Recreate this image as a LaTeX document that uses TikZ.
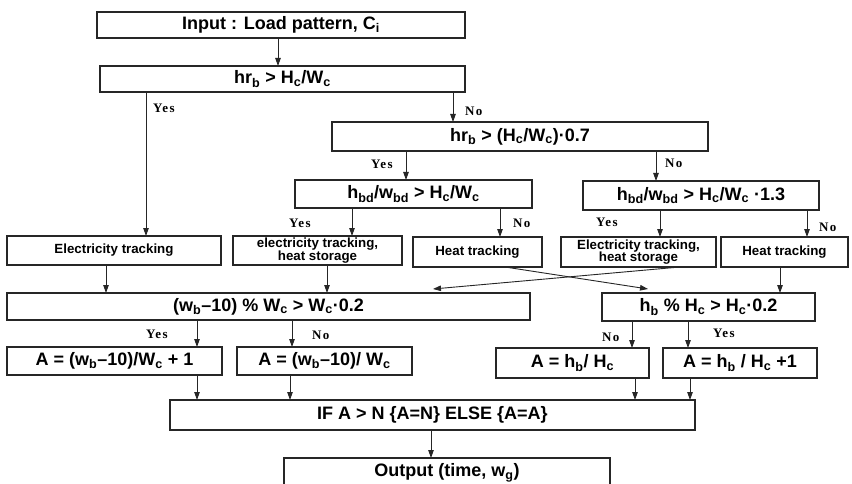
\documentclass[tikz,border=0pt]{standalone}
\usepackage{fontspec}
\setmainfont{Liberation Sans}
\newfontfamily\lblfont[LetterSpace=10]{Liberation Serif}
\usetikzlibrary{arrows.meta,calc}
\newcommand{\sbs}[1]{\textsubscript{#1}}
\tikzset{
  box/.style={draw=black!85, line width=1.5pt, rectangle, inner sep=0pt, outer sep=0pt,
    font=\fontsize{18}{19}\selectfont\bfseries},
  smallbox/.style={box, font=\fontsize{13.3}{12.5}\selectfont\bfseries, align=center},
  arr/.style={draw=black!85, line width=0.9pt, -{Triangle[length=8pt,width=5.5pt]}},
  lbl/.style={font=\lblfont\bfseries\fontsize{13}{13}\selectfont, anchor=west, inner sep=0pt},
}
\begin{document}
\begin{tikzpicture}[x=1pt,y=-1pt]
\useasboundingbox (0,0) rectangle (852,484);
\clip (0,0) rectangle (852,484);
\fill[white] (0,0) rectangle (852,484);
% boxes
\node[box, minimum width=368, minimum height=26] (input) at (281,25) {Input : Load pattern, C\sbs{i}};
\node[box, minimum width=365, minimum height=26] (c1) at (282.5,79) {hr\sbs{b} > H\sbs{c}/W\sbs{c}};
\node[box, minimum width=376, minimum height=29] (c2) at (520,136.5) {hr\sbs{b} > (H\sbs{c}/W\sbs{c})·0.7};
\node[box, minimum width=237, minimum height=28] (c3) at (413.5,194) {h\sbs{bd}/w\sbs{bd} > H\sbs{c}/W\sbs{c}};
\node[box, minimum width=236, minimum height=29] (c4) at (701,195.5) {h\sbs{bd}/w\sbs{bd} > H\sbs{c}/W\sbs{c} ·1.3};
\node[smallbox, minimum width=214, minimum height=29] (t1) at (114,250.5) {Electricity tracking};
\node[smallbox, minimum width=169, minimum height=29] (t2) at (317.5,250.5) {electricity tracking,\\heat storage};
\node[smallbox, minimum width=129, minimum height=30] (t3) at (477.5,252) {Heat tracking};
\node[smallbox, minimum width=155, minimum height=30] (t4) at (638.5,252) {Electricity tracking,\\heat storage};
\node[smallbox, minimum width=127, minimum height=30] (t5) at (784.5,252) {Heat tracking};
\node[box, minimum width=523, minimum height=27] (d1) at (268.5,306.5) {(w\sbs{b}–10) \% W\sbs{c} > W\sbs{c}·0.2};
\node[box, minimum width=213, minimum height=28] (d2) at (708.5,307) {h\sbs{b} \% H\sbs{c} > H\sbs{c}·0.2};
\node[box, minimum width=215, minimum height=28] (a1) at (114.5,361) {A = (w\sbs{b}–10)/W\sbs{c} + 1};
\node[box, minimum width=175, minimum height=28] (a2) at (324.5,361) {A = (w\sbs{b}–10)/ W\sbs{c}};
\node[box, minimum width=153, minimum height=30] (a3) at (572.5,363) {A = h\sbs{b}/ H\sbs{c}};
\node[box, minimum width=154, minimum height=30] (a4) at (740,363) {A = h\sbs{b} / H\sbs{c} +1};
\node[box, minimum width=525, minimum height=30] (f) at (432.5,415) {IF A > N \{A=N\} ELSE \{A=A\}};
\node[box, minimum width=326, minimum height=30] (out) at (447,473) {Output (time, w\sbs{g})};
% connectors
\draw[arr] (input.south -| 278,0) -- (c1.north -| 278,0);
\draw[arr] (c1.south -| 146,0) -- (t1.north -| 146,0);
\draw[arr] (c1.south -| 453,0) -- (c2.north -| 453,0);
\draw[arr] (c2.south -| 406,0) -- (c3.north -| 406,0);
\draw[arr] (c2.south -| 656,0) -- (c4.north -| 656,0);
\draw[arr] (c3.south -| 352,0) -- (t2.north -| 352,0);
\draw[arr] (c3.south -| 500,0) -- (t3.north -| 500,0);
\draw[arr] (c4.south -| 660,0) -- (t4.north -| 660,0);
\draw[arr] (c4.south -| 807,0) -- (t5.north -| 807,0);
\draw[arr] (t1.south -| 106,0) -- (d1.north -| 106,0);
\draw[arr] (t2.south -| 327,0) -- (d1.north -| 327,0);
\draw[arr] (t3.south -| 505,0) -- ($(d2.north)+(-60.5,-4)$);
\draw[arr] (t4.south -| 680,0) -- ($(d1.north)+(164.5,-4)$);
\draw[arr] (t5.south -| 780,0) -- (d2.north -| 780,0);
\draw[arr] (d1.south -| 197,0) -- (a1.north -| 197,0);
\draw[arr] (d1.south -| 292,0) -- (a2.north -| 292,0);
\draw[arr] (d2.south -| 632,0) -- (a3.north -| 632,0);
\draw[arr] (d2.south -| 688,0) -- (a4.north -| 688,0);
\draw[arr] (a1.south -| 197,0) -- (f.north -| 197,0);
\draw[arr] (a2.south -| 290,0) -- (f.north -| 290,0);
\draw[arr] (a3.south -| 635,0) -- (f.north -| 635,0);
\draw[arr] (a4.south -| 690,0) -- (f.north -| 690,0);
\draw[arr] (f.south -| 431,0) -- (out.north -| 431,0);
% labels
\node[lbl] (y1) at (153,108) {Yes};
\node[lbl] (n1) at (465,111) {No};
\node[lbl] (y2) at (371,164) {Yes};
\node[lbl] (n2) at (665,163) {No};
\node[lbl] (y3) at (289,223) {Yes};
\node[lbl] (n3) at (513,223) {No};
\node[lbl] (y4) at (596,222) {Yes};
\node[lbl] (n4) at (819,227) {No};
\node[lbl] (y5) at (146,334) {Yes};
\node[lbl] (n5) at (312,335) {No};
\node[lbl] (n6) at (602,337) {No};
\node[lbl] (y6) at (713,333) {Yes};
\end{tikzpicture}
\end{document}
